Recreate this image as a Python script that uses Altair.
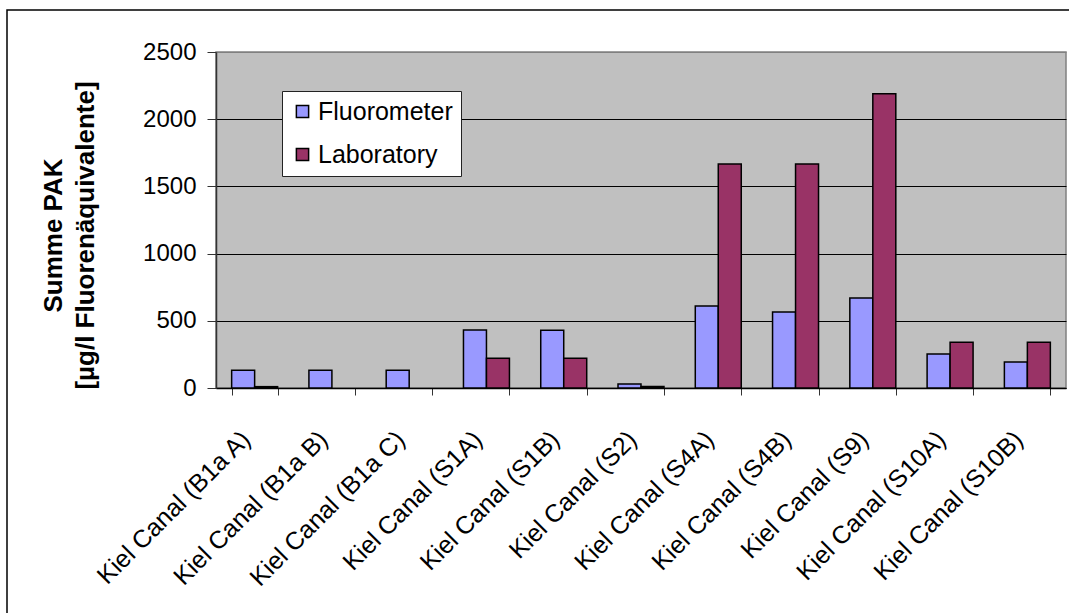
import altair as alt
import pandas as pd

# Sampling sites along the Kiel Canal
sites = [
    "Kiel Canal (B1a A)", "Kiel Canal (B1a B)", "Kiel Canal (B1a C)",
    "Kiel Canal (S1A)", "Kiel Canal (S1B)", "Kiel Canal (S2)",
    "Kiel Canal (S4A)", "Kiel Canal (S4B)", "Kiel Canal (S9)",
    "Kiel Canal (S10A)", "Kiel Canal (S10B)",
]
series_names = ["Fluorometer", "Laboratory"]
series_colors = ["#9999FF", "#993366"]

# Summe PAK, µg/l fluorene equivalents (None = no laboratory value)
fluorometer = [132, 132, 132, 432, 429, 30, 610, 565, 670, 253, 193]
laboratory = [10, None, None, 221, 221, 12, 1667, 1667, 2190, 340, 340]

y_ticks = [0, 500, 1000, 1500, 2000, 2500]

rows = []
for site, f, l in zip(sites, fluorometer, laboratory):
    if f is not None:
        rows.append({"site": site, "series": "Fluorometer", "value": f})
    if l is not None:
        rows.append({"site": site, "series": "Laboratory", "value": l})
df = pd.DataFrame(rows)

FONT = "Liberation Sans"
W, H = 850, 336

bars = alt.Chart(df).mark_bar(stroke="black", strokeWidth=1.5).encode(
    x=alt.X(
        "site:N",
        sort=sites,
        scale=alt.Scale(paddingInner=0.405, paddingOuter=0.2025),
        axis=alt.Axis(
            title=None,
            tickBand="extent",
            tickSize=7,
            tickColor="#333333",
            domainColor="black",
            domainWidth=1.5,
            labelAngle=315,
            labelAlign="right",
            labelBaseline="middle",
            labelPadding=40,
            labelOffset=-9,
            labelFontSize=25,
            labelFont=FONT,
            labelColor="black",
            labelLimit=400,
            grid=False,
        ),
    ),
    xOffset=alt.XOffset("series:N", sort=series_names,
                        scale=alt.Scale(paddingInner=0, paddingOuter=0)),
    y=alt.Y(
        "value:Q",
        scale=alt.Scale(domain=[0, 2500], nice=False),
        axis=alt.Axis(
            values=y_ticks,
            format="d",
            title=["Summe PAK", "[µg/l Fluorenäquivalente]"],
            titleFont=FONT,
            titleFontSize=26,
            titleFontWeight="bold",
            titleColor="black",
            titleLineHeight=32,
            titleAngle=270,
            titleAlign="center",
            titleBaseline="middle",
            titleX=-163,
            titleY=183,
            grid=True,
            # the top line is the grey plot-area border, not a black gridline
            gridColor=alt.condition("datum.value >= 2500",
                                    alt.value("#808080"), alt.value("black")),
            gridWidth=1,
            tickSize=9,
            tickColor="#333333",
            domainColor="#333333",
            domainWidth=1.5,
            labelFontSize=24,
            labelFont=FONT,
            labelColor="black",
            labelPadding=11,
        ),
    ),
    color=alt.Color(
        "series:N",
        sort=series_names,
        scale=alt.Scale(domain=series_names, range=series_colors),
        legend=alt.Legend(
            title=None,
            orient="none",
            legendX=66,
            legendY=39,
            fillColor="white",
            strokeColor="#222222",
            padding=8,
            symbolType="square",
            symbolSize=150,
            symbolStrokeColor="black",
            symbolStrokeWidth=1.5,
            symbolOpacity=1,
            labelFont=FONT,
            labelFontSize=25,
            labelColor="black",
            labelOffset=3,
            rowPadding=17,
        ),
    ),
)

# Frame around the whole figure
frame = alt.Chart(pd.DataFrame({"k": [0]})).mark_rect(
    fill=None, stroke="black", strokeWidth=1.5
).encode(
    x=alt.value(-209), x2=alt.value(W + 20),
    y=alt.value(-42), y2=alt.value(H + 240),
)

chart = alt.layer(bars, frame).properties(
    width=W,
    height=H,
    autosize=alt.AutoSizeParams(type="none"),
    padding={"left": 216, "top": 52, "right": 3, "bottom": 225},
    background="white",
).configure_view(
    fill="#C0C0C0",
    stroke="#808080",
    strokeWidth=1.5,
)

chart.save("out.html", embed_options={"renderer": "svg", "actions": False})
